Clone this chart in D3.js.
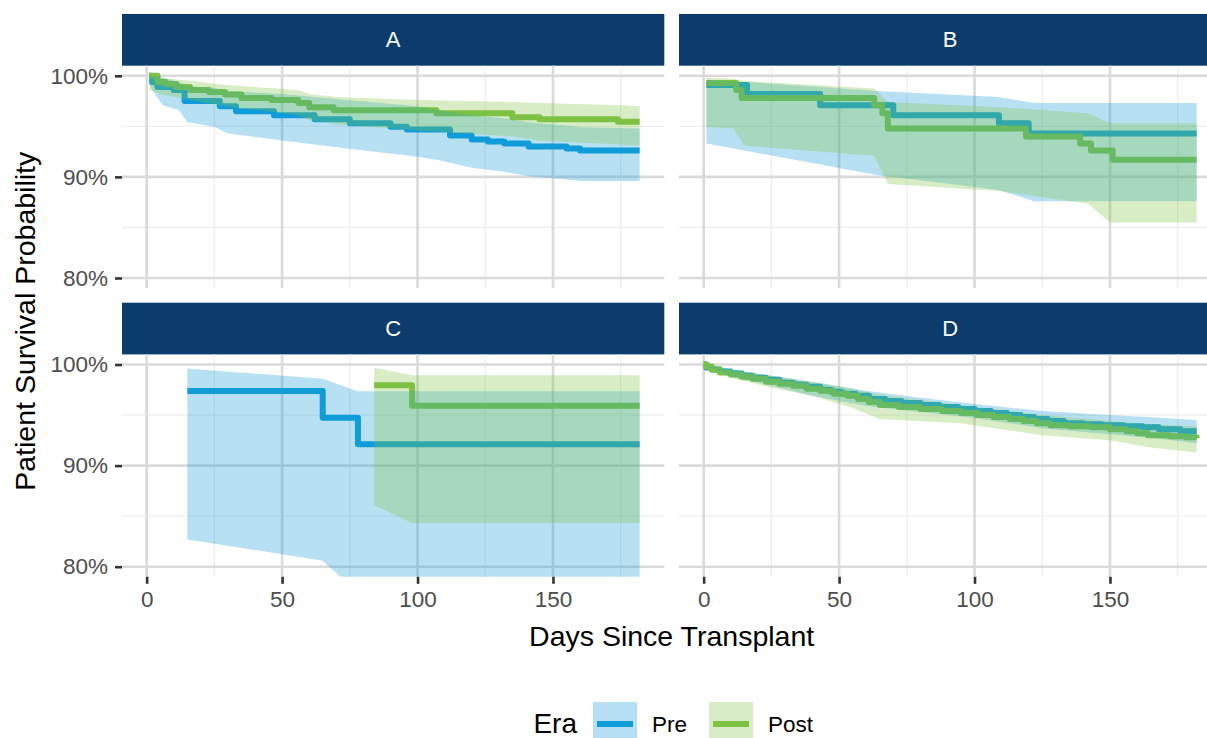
<!DOCTYPE html>
<html>
<head>
<meta charset="utf-8">
<script src="https://cdn.jsdelivr.net/npm/d3@7"></script>
<style>
  html, body { margin: 0; padding: 0; background: #ffffff; }
  svg { display: block; font-family: "Liberation Sans", Arial, Helvetica, sans-serif; }
</style>
</head>
<body>
<svg id="chart" width="1207" height="738"></svg>
<script>
// ---- data (survival in %, time in days) ----
const panels = ["A", "B", "C", "D"];
const eras = ["Pre", "Post"];
const eraColors = ["#109CD8", "#7DC242"];
const xTicks = [0, 50, 100, 150];
const xMinor = [25, 75, 125, 175];
const yTicks = [80, 90, 100];
const yTickLabels = ["80%", "90%", "100%"];
const yMinor = [85, 95];

// Panel A
const aPreT = [1, 2, 4, 10, 14, 27, 33, 47, 62, 75, 90, 96, 112, 120, 126, 132, 141, 155, 160, 182];
const aPreS = [100, 99.4, 98.9, 98.6, 97.5, 97.0, 96.5, 96.1, 95.7, 95.3, 94.95, 94.7, 94.1, 93.7, 93.5, 93.3, 93.0, 92.8, 92.6, 92.6];
const aPreRibT = [1, 2, 6, 12, 15, 25, 30, 50, 74, 100, 108, 120, 132, 141, 161, 182];
const aPreLo = [99.3, 98.6, 97.1, 96.6, 95.4, 94.95, 94.3, 93.6, 92.8, 92.0, 91.65, 90.9, 90.5, 90.07, 89.6, 89.6];
const aPreHi = [100, 100, 99.8, 99.4, 99.0, 98.8, 98.5, 98.2, 97.6, 97.0, 96.6, 96.1, 95.8, 95.4, 94.9, 94.8];
const aPostT = [1, 4, 7, 11, 16, 23, 29, 35, 46, 56, 60, 69, 107, 135, 145, 174, 182];
const aPostS = [100, 99.4, 99.2, 98.9, 98.6, 98.4, 98.15, 97.8, 97.6, 97.3, 96.9, 96.6, 96.3, 95.9, 95.7, 95.45, 95.45];
const aPostRibT = [1, 5, 16, 29, 45, 56, 60, 70, 100, 135, 145, 175, 182];
const aPostLo = [98.6, 98.2, 97.6, 97.0, 96.5, 96.1, 95.6, 95.2, 94.6, 94.0, 93.6, 93.2, 93.1];
const aPostHi = [100, 99.8, 99.5, 99.1, 98.8, 98.6, 98.2, 97.9, 97.6, 97.4, 97.3, 97.1, 97.0];

// Panel B
const bPreT = [1, 16, 43, 70, 109, 120, 182];
const bPreS = [99.1, 98.2, 97.1, 96.1, 95.3, 94.3, 94.3];
const bPreRibT = [1, 15, 64, 109, 122, 182];
const bPreLo = [93.3, 92.6, 90.2, 88.7, 87.6, 87.6];
const bPreHi = [99.6, 99.4, 98.5, 97.9, 97.3, 97.3];
const bPostT = [1, 12, 14, 63, 66, 68, 119, 139, 143, 151, 182];
const bPostS = [99.3, 98.6, 97.8, 97.1, 96.3, 94.8, 94.0, 93.3, 92.6, 91.7, 91.7];
const bPostRibT = [1, 11, 15, 63, 68, 109, 142, 150, 182];
const bPostLo = [94.95, 94.8, 93.1, 92.1, 89.3, 88.6, 87.35, 85.5, 85.5];
const bPostHi = [99.8, 99.7, 99.5, 98.75, 97.4, 96.9, 96.3, 95.3, 95.3];

// Panel C
const cPreT = [15, 65, 78, 182];
const cPreS = [97.37, 94.74, 92.1, 92.1];
const cPreRibT = [15, 65, 78, 182];
const cPreLo = [82.7, 80.6, 77.4, 77.4];
const cPreHi = [99.6, 98.6, 97.36, 97.36];
const cPostT = [84, 98, 182];
const cPostS = [97.96, 95.92, 95.92];
const cPostRibT = [84, 98, 182];
const cPostLo = [86.1, 84.33, 84.33];
const cPostHi = [99.67, 98.94, 98.94];

// Panel D
const dPreT = [0, 1, 3, 6, 10, 14, 18, 23, 28, 33, 38, 43, 47, 51, 56, 61, 67, 73, 80, 87, 94, 100, 106, 112, 117, 122, 127, 133, 140, 147, 155, 162, 168, 176, 182];
const dPreS = [100, 99.7, 99.5, 99.3, 99.1, 98.9, 98.7, 98.5, 98.2, 98.0, 97.8, 97.5, 97.3, 97.1, 96.9, 96.6, 96.4, 96.2, 96.0, 95.8, 95.6, 95.4, 95.2, 95.0, 94.8, 94.6, 94.4, 94.2, 94.1, 94.0, 93.9, 93.8, 93.6, 93.4, 93.4];
const dPreRibT = [0, 10, 25, 40, 60, 80, 100, 125, 150, 170, 182];
const dPreLo = [100, 98.8, 97.9, 96.9, 95.9, 95.3, 94.7, 93.7, 93.1, 92.6, 92.2];
const dPreHi = [100, 99.5, 98.9, 98.3, 97.4, 96.7, 96.1, 95.4, 95.0, 94.7, 94.5];
const dPostT = [0, 1, 3, 6, 10, 14, 18, 23, 28, 33, 38, 43, 48, 53, 57, 61, 65, 72, 80, 88, 95, 101, 107, 113, 118, 123, 128, 135, 143, 150, 156, 160, 164, 172, 178, 182];
const dPostS = [100, 99.8, 99.5, 99.2, 99.0, 98.8, 98.6, 98.3, 98.1, 97.9, 97.6, 97.4, 97.1, 96.9, 96.6, 96.3, 96.0, 95.8, 95.6, 95.4, 95.2, 95.0, 94.8, 94.6, 94.4, 94.2, 94.0, 93.9, 93.8, 93.6, 93.4, 93.2, 93.0, 92.9, 92.8, 92.7];
const dPostRibT = [0, 10, 25, 40, 55, 65, 95, 125, 150, 165, 182];
const dPostLo = [100, 98.7, 97.7, 96.9, 95.7, 94.6, 94.2, 93.0, 92.5, 91.8, 91.3];
const dPostHi = [100, 99.5, 98.9, 98.3, 97.6, 97.0, 96.0, 95.0, 94.4, 94.1, 93.9];

const steps = {
  A: [[aPreT, aPreS], [aPostT, aPostS]],
  B: [[bPreT, bPreS], [bPostT, bPostS]],
  C: [[cPreT, cPreS], [cPostT, cPostS]],
  D: [[dPreT, dPreS], [dPostT, dPostS]]
};
const ribbons = {
  A: [[aPreRibT, aPreLo, aPreHi], [aPostRibT, aPostLo, aPostHi]],
  B: [[bPreRibT, bPreLo, bPreHi], [bPostRibT, bPostLo, bPostHi]],
  C: [[cPreRibT, cPreLo, cPreHi], [cPostRibT, cPostLo, cPostHi]],
  D: [[dPreRibT, dPreLo, dPreHi], [dPostRibT, dPostLo, dPostHi]]
};

// ---- layout ----
const svg = d3.select("#chart");
const panelW = 542.3, panelH = 222.4, stripH = 51.7;
const colX = [122, 679];
const rowStripY = [14, 302.7];

const x = d3.scaleLinear().domain([-9.1, 191.1]).range([0, panelW]);
const y = d3.scaleLinear().domain([79, 101]).range([panelH, 0]);

const tickGrey = "#4D4D4D";
const fontMain = '"Liberation Sans", Arial, Helvetica, sans-serif';

const stepLine = d3.line().curve(d3.curveStepAfter).x(d => x(d[0])).y(d => y(d[1]));
const band = d3.area().x(d => x(d[0])).y0(d => y(d[1])).y1(d => y(d[2]));

const defs = svg.append("defs");

panels.forEach((p, i) => {
  const col = i % 2, row = Math.floor(i / 2);
  const px = colX[col];
  const sy = rowStripY[row];
  const py = sy + stripH;

  // strip
  svg.append("rect").attr("x", px).attr("y", sy).attr("width", panelW).attr("height", stripH)
    .attr("fill", "#0B3C6D");
  svg.append("text").attr("x", px + panelW / 2).attr("y", sy + stripH / 2)
    .attr("text-anchor", "middle").attr("dominant-baseline", "central")
    .attr("fill", "#ffffff").style("font-size", "22px").text(p);

  const g = svg.append("g").attr("transform", `translate(${px},${py})`);

  defs.append("clipPath").attr("id", "clip" + p)
    .append("rect").attr("width", panelW).attr("height", panelH);

  // minor grid
  g.selectAll(".vminor").data(xMinor).join("line")
    .attr("x1", d => x(d)).attr("x2", d => x(d)).attr("y1", 0).attr("y2", panelH)
    .attr("stroke", "#EEEEEE").attr("stroke-width", 1.3);
  g.selectAll(".hminor").data(yMinor).join("line")
    .attr("y1", d => y(d)).attr("y2", d => y(d)).attr("x1", 0).attr("x2", panelW)
    .attr("stroke", "#EEEEEE").attr("stroke-width", 1.3);
  // major grid
  g.selectAll(".vmajor").data(xTicks).join("line")
    .attr("x1", d => x(d)).attr("x2", d => x(d)).attr("y1", 0).attr("y2", panelH)
    .attr("stroke", "#DADADA").attr("stroke-width", 2.6);
  g.selectAll(".hmajor").data(yTicks).join("line")
    .attr("y1", d => y(d)).attr("y2", d => y(d)).attr("x1", 0).attr("x2", panelW)
    .attr("stroke", "#DADADA").attr("stroke-width", 2.6);

  const plot = g.append("g").attr("clip-path", `url(#clip${p})`);

  // survival steps
  steps[p].forEach(([t, s], k) => {
    const pts = t.map((tv, j) => [tv, s[j]]);
    plot.append("path").attr("d", stepLine(pts))
      .attr("fill", "none").attr("stroke", eraColors[k]).attr("stroke-width", 6)
      .attr("stroke-linejoin", "round");
  });
  // confidence bands
  ribbons[p].forEach(([t, lo, hi], k) => {
    const pts = t.map((tv, j) => [tv, lo[j], hi[j]]);
    plot.append("path").attr("d", band(pts))
      .attr("fill", eraColors[k]).attr("fill-opacity", 0.3);
  });

  // axes
  if (col === 0) {
    const ya = d3.axisLeft(y).tickValues(yTicks).tickFormat((d, j) => yTickLabels[j])
      .tickSize(7).tickPadding(7);
    const ga = g.append("g").call(ya);
    ga.select(".domain").remove();
    ga.selectAll("line").attr("stroke", "#333333").attr("stroke-width", 2.6);
    ga.selectAll("text").attr("fill", tickGrey).style("font-size", "22.5px")
      .style("font-family", fontMain);
  }
  if (row === 1) {
    const xa = d3.axisBottom(x).tickValues(xTicks).tickFormat(d3.format("d"))
      .tickSize(7).tickPadding(7.5);
    const ga = g.append("g").attr("transform", `translate(0,${panelH})`).call(xa);
    ga.select(".domain").remove();
    ga.selectAll("line").attr("stroke", "#333333").attr("stroke-width", 2.6);
    ga.selectAll("text").attr("fill", tickGrey).style("font-size", "22.5px")
      .style("font-family", fontMain);
  }
});

// axis titles
const centerX = (colX[0] + colX[1] + panelW) / 2;
svg.append("text").attr("x", centerX).attr("y", 646).attr("text-anchor", "middle")
  .attr("fill", "#000000").style("font-size", "28.5px").text("Days Since Transplant");
const midY = (rowStripY[0] + stripH + rowStripY[1] + stripH + panelH) / 2;
svg.append("text").attr("transform", `translate(35,${midY}) rotate(-90)`)
  .attr("text-anchor", "middle").attr("fill", "#000000").style("font-size", "28.5px")
  .text("Patient Survival Probability");

// legend
const legend = svg.append("g");
legend.append("text").attr("x", 577).attr("y", 733).attr("text-anchor", "end")
  .attr("fill", "#000000").style("font-size", "28px").text("Era");
const keyX = [593, 709];
const labX = [652, 768];
eras.forEach((e, k) => {
  legend.append("rect").attr("x", keyX[k]).attr("y", 702).attr("width", 44).attr("height", 44)
    .attr("fill", eraColors[k]).attr("fill-opacity", 0.3);
  legend.append("line").attr("x1", keyX[k] + 4).attr("x2", keyX[k] + 40)
    .attr("y1", 724).attr("y2", 724).attr("stroke", eraColors[k]).attr("stroke-width", 6);
  legend.append("text").attr("x", labX[k]).attr("y", 732).attr("fill", "#000000")
    .style("font-size", "22.5px").text(e);
});
</script>
</body>
</html>
